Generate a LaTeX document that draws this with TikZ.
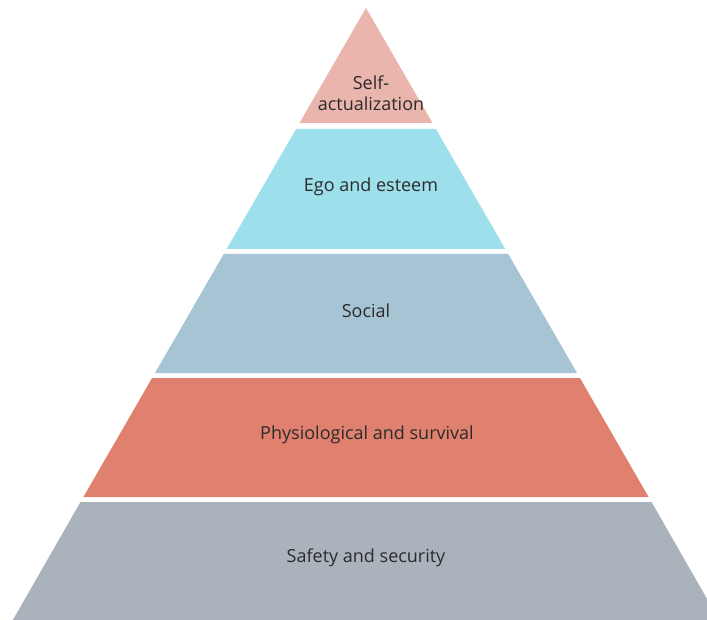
\documentclass[tikz,border=0pt]{standalone}
\usepackage{fontspec}
\setmainfont{Open Sans}
\definecolor{cSelf}{HTML}{E9B5AC}
\definecolor{cEgo}{HTML}{9DE0EB}
\definecolor{cSocial}{HTML}{A7C4D4}
\definecolor{cPhys}{HTML}{E0806F}
\definecolor{cSafe}{HTML}{AAB2BB}
\definecolor{cText}{HTML}{2B2B2B}
\tikzset{
  lbl/.style={text=cText, font=\fontsize{18}{20.5}\selectfont, align=center, inner sep=0pt},
}
\begin{document}
\begin{tikzpicture}[x=1pt,y=-1pt]
\useasboundingbox (0,0) rectangle (707,620);
\clip (0,0) rectangle (707,620);
\fill[white] (0,0) rectangle (707,620);
% apex (366,8), slope 0.578
\fill[cSelf] (366,8) -- (432.5,123) -- (299.5,123) -- cycle;
\fill[cEgo] (296.1,129) -- (435.9,129) -- (505.3,249) -- (226.7,249) -- cycle;
\fill[cSocial] (223.8,254) -- (508.2,254) -- (577,373) -- (155,373) -- cycle;
\fill[cPhys] (152.1,378) -- (579.9,378) -- (648.6,497) -- (83.4,497) -- cycle;
\fill[cSafe] (80.5,502) -- (651.5,502) -- (719.7,621) -- (12.3,621) -- cycle;
\node[lbl] (self) at (371,93) {Self-\\actualization};
\node[lbl] (ego) at (371,187) {Ego and esteem};
\node[lbl] (social) at (366,311) {Social};
\node[lbl] (phys) at (367,435) {Physiological and survival};
\node[lbl] (safe) at (366,558) {Safety and security};
\end{tikzpicture}
\end{document}
